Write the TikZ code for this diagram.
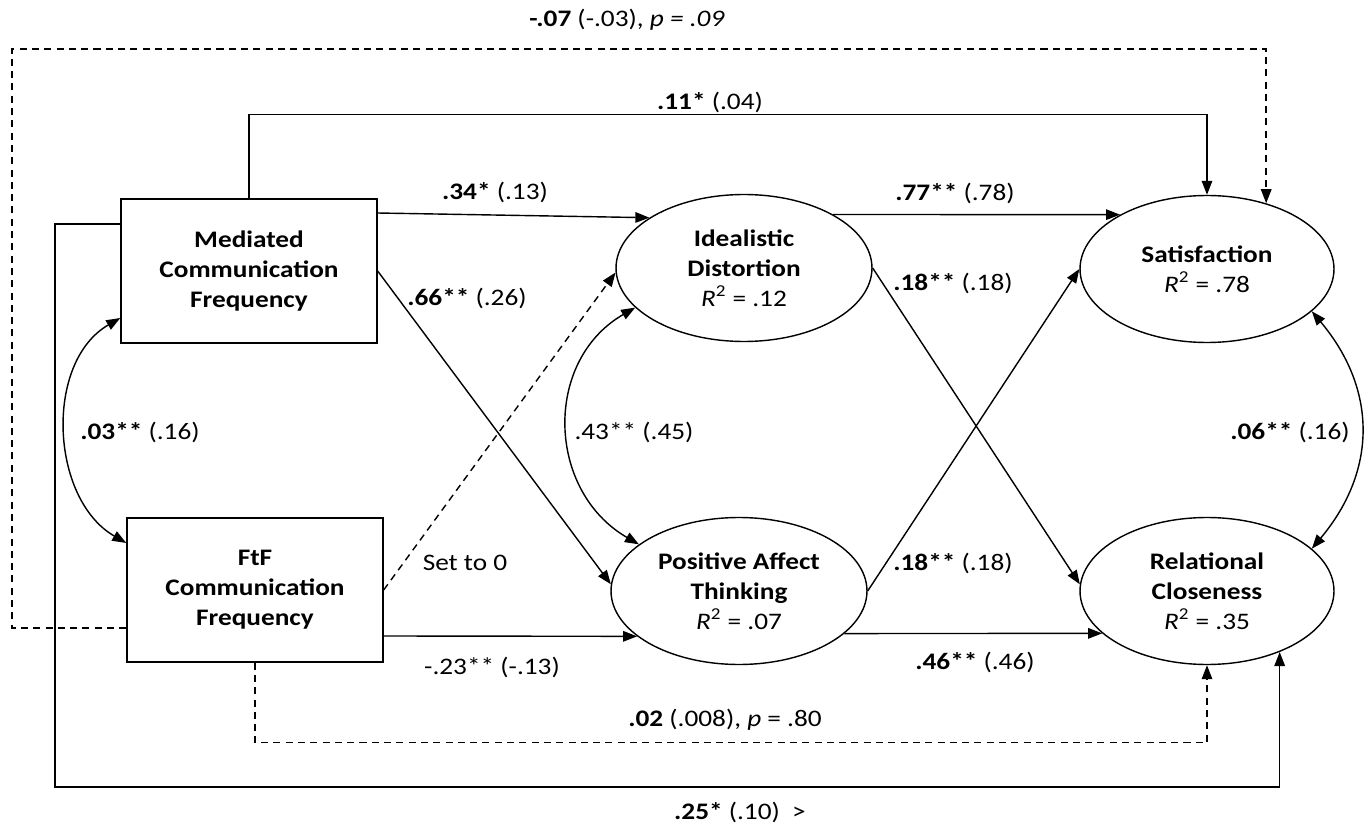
\documentclass[tikz,border=0pt]{standalone}
\usepackage{fontspec}
\setmainfont{Carlito}[FakeStretch=1.15]
\usetikzlibrary{shapes.geometric,arrows.meta,calc}

\begin{document}
\begin{tikzpicture}[x=0.02cm,y=-0.02cm,line width=0.8pt,
    >={Triangle[length=8pt,width=6pt]},
    box/.style={draw,rectangle,minimum width=5.12cm,minimum height=2.88cm,align=center,font=\bfseries\fontsize{13.5}{17}\selectfont},
    latent/.style={draw,ellipse,minimum width=5.12cm,minimum height=2.94cm,inner sep=0pt,align=center,font=\fontsize{13.5}{17}\selectfont},
    coef/.style={font=\fontsize{13.5}{15}\selectfont},
    nullpath/.style={dash pattern=on 4pt off 3pt}]
    \useasboundingbox (0,0) rectangle (1370,831);
    % observed and latent variables
    \node[box] (med) at (249,271) {Mediated\\Communication\\Frequency};
    \node[box] (ftf) at (255,590) {FtF\\Communication\\Frequency};
    \node[latent] (ideal) at (744,268) {\textbf{Idealistic}\\\textbf{Distortion}\\\textit{R}\textsuperscript{2} = .12};
    \node[latent] (pos) at (739,591) {\textbf{Positive Affect}\\\textbf{Thinking}\\\textit{R}\textsuperscript{2} = .07};
    \node[latent,minimum width=5.08cm] (sat) at (1207,269) {\textbf{Satisfaction}\\\textit{R}\textsuperscript{2} = .78};
    \node[latent,minimum width=5.08cm] (rel) at (1207,591) {\textbf{Relational}\\\textbf{Closeness}\\\textit{R}\textsuperscript{2} = .35};
    % paths
    \draw[->] ($(med.east)+(0,-58)$) -- (ideal.152);
    \draw[->] (med.east) -- (pos.177);
    \draw[nullpath,->] (ftf.east) -- (ideal.182);
    \draw[->] ($(ftf.east)+(0,46)$) -- (pos.204);
    \draw[->] (ideal.31) -- (sat.148);
    \draw[->] (ideal.east) -- (rel.177);
    \draw[->] (pos.east) -- (sat.west);
    \draw[->] (pos.-22) -- (rel.202);
    \draw[<->] ($(med.west)+(0,47)$) to[out=210,in=150] ($(ftf.west)+(0,-47)$);
    \draw[<->] (ideal.200) to[out=210,in=150,looseness=1.15] (pos.155);
    \draw[<->] (sat.-22) to[out=-50,in=50,looseness=1.1] (rel.22);
    \draw[->] (med.north) -- ++(0,-84) -| (sat.north);
    \draw[nullpath,->] ($(ftf.west)+(0,38)$) -| (12,49) -| (sat.48);
    \draw[->] ($(med.west)+(0,-47)$) -| (55,787) -| (rel.-40);
    \draw[nullpath,->] (ftf.south) -- ++(0,80) -| (rel.south);
    % coefficients
    \node[coef] (cMedIdeal) at (495,192) {\textbf{.34*} (.13)};
    \node[coef] (cMedPos) at (467,298) {\textbf{.66**} (.26)};
    \node[coef] (cFtfIdeal) at (465,563) {Set to 0};
    \node[coef] (cFtfPos) at (492,667) {-.23** (-.13)};
    \node[coef] (cIdealPos) at (634,432) {.43** (.45)};
    \node[coef] (cMedFtf) at (140,432) {\textbf{.03**} (.16)};
    \node[coef] (cIdealSat) at (955,193) {\textbf{.77**} (.78)};
    \node[coef] (cIdealRel) at (953,283) {\textbf{.18**} (.18)};
    \node[coef] (cPosSat) at (953,563) {\textbf{.18**} (.18)};
    \node[coef] (cPosRel) at (975,662) {\textbf{.46**} (.46)};
    \node[coef] (cSatRel) at (1290,432) {\textbf{.06**} (.16)};
    \node[coef] (cMedSat) at (710,102) {\textbf{.11*} (.04)};
    \node[coef] (cFtfSat) at (627,20) {\textbf{-.07} (-.03), \textit{p = .09}};
    \node[coef] (cFtfRel) at (725,720) {\textbf{.02} (.008), \textit{p} = .80};
    \node[coef] (cMedRel) at (740,812) {\textbf{.25*} (.10)~~>};
\end{tikzpicture}
\end{document}
